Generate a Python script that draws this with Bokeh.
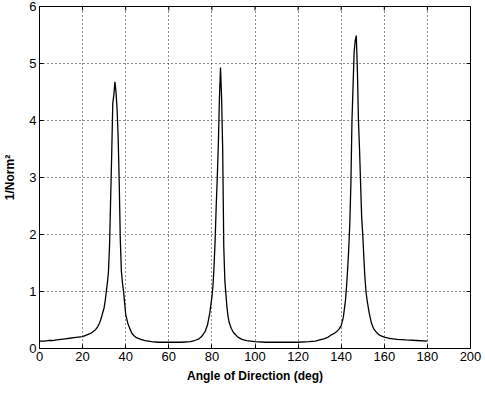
import math
from bokeh.plotting import figure
from bokeh.models import Range1d, FixedTicker
from bokeh.embed import file_html
from bokeh.resources import INLINE

# Angle of direction (deg) and pseudo-spectrum 1/Norm^2
angles = [0, 2, 4, 6, 8, 10, 12, 14, 16, 18, 20, 22, 24, 26, 27, 28, 29, 30, 30.5,
          31, 31.5, 32, 32.5, 33, 33.5, 34, 34.5, 35, 35.5, 36, 36.5, 37, 37.5, 38,
          38.5, 39, 39.5, 40, 41, 42, 43, 44, 45, 47, 49, 52, 55, 58, 62, 66, 70,
          72, 74, 75, 76, 77, 78, 79, 80, 80.5, 81, 81.5, 82, 82.5, 83, 83.5, 84,
          84.5, 85, 85.5, 86, 86.5, 87, 87.5, 88, 89, 90, 91, 92, 94, 96, 100, 105,
          110, 115, 120, 125, 128, 130, 132, 134, 135, 136, 137, 138, 139, 140, 141,
          142, 142.5, 143, 143.5, 144, 144.5, 145, 145.5, 146, 146.5, 147, 147.5,
          148, 148.5, 149, 149.5, 150, 150.5, 151, 151.5, 152, 153, 154, 155, 156,
          157, 158, 160, 162, 164, 166, 170, 175, 180]
inv_norm_sq = [0.13, 0.13, 0.14, 0.14, 0.15, 0.16, 0.17, 0.18, 0.19, 0.20, 0.21,
               0.24, 0.27, 0.33, 0.38, 0.46, 0.58, 0.72, 0.84,
               1.0, 1.15, 1.35, 1.8, 2.6, 3.4, 4.3, 4.45, 4.68, 4.5, 4.2, 3.7, 2.9,
               1.9, 1.35, 1.15, 1.0, 0.8, 0.6, 0.44, 0.34, 0.26, 0.22, 0.19, 0.16,
               0.14, 0.12, 0.11, 0.11, 0.11, 0.11, 0.12,
               0.14, 0.17, 0.2, 0.25, 0.31, 0.42, 0.62, 0.9, 1.1, 1.45, 1.9, 2.5,
               3.0, 3.6, 4.4, 4.93, 4.4, 3.5, 1.8, 1.2, 0.95, 0.72, 0.56, 0.46, 0.35,
               0.28, 0.24, 0.2, 0.16, 0.14, 0.12, 0.11,
               0.11, 0.11, 0.11, 0.12, 0.13, 0.15, 0.17, 0.2, 0.23, 0.25, 0.27,
               0.3, 0.34, 0.4, 0.55,
               0.85, 1.1, 1.4, 1.75, 2.2, 2.9, 4.0, 4.6, 5.2, 5.4, 5.49, 4.9,
               4.0, 3.5, 2.9, 2.3, 2.0, 1.6, 1.25, 1.0, 0.85, 0.62, 0.45, 0.35, 0.3,
               0.26, 0.23, 0.2, 0.18, 0.17, 0.16, 0.15, 0.14, 0.13]

x_ticks = [0, 20, 40, 60, 80, 100, 120, 140, 160, 180, 200]
y_ticks = [0, 1, 2, 3, 4, 5, 6]
x_min, x_max = 0, 200
y_min, y_max = 0, 6

FONT = "Liberation Sans"

p = figure(width=485, height=394, output_backend="svg", toolbar_location=None,
           x_range=Range1d(x_min, x_max), y_range=Range1d(y_min, y_max),
           min_border_left=37, min_border_right=15, min_border_top=6,
           min_border_bottom=46, background_fill_color="white",
           border_fill_color="white")

p.line(angles, inv_norm_sq, line_color="black", line_width=1.3)

p.xaxis.axis_label = "Angle of Direction (deg)"
p.yaxis.axis_label = "1/Norm²"

for ax in (p.xaxis[0], p.yaxis[0]):
    ax.axis_label_text_font = FONT
    ax.axis_label_text_font_size = "12px"
    ax.axis_label_text_font_style = "bold"
    ax.major_label_text_font = FONT
    ax.major_label_text_font_size = "13px"
    ax.major_label_standoff = 3
    ax.major_tick_in = 4
    ax.major_tick_out = 0
    ax.minor_tick_line_color = None
    ax.axis_line_color = "black"
    ax.major_tick_line_color = "black"
    ax.major_label_text_color = "black"
    ax.axis_label_text_color = "black"

p.xaxis.axis_label_standoff = 5
p.yaxis.axis_label_standoff = 9

p.xaxis.ticker = FixedTicker(ticks=x_ticks)
p.yaxis.ticker = FixedTicker(ticks=y_ticks)

# inward box ticks on the top and right edges (clipped half-dashes)
p.scatter(x_ticks, [y_max] * len(x_ticks), marker="dash", size=8,
          angle=math.pi / 2, line_color="black", line_width=1)
p.scatter([x_max] * len(y_ticks), y_ticks, marker="dash", size=8,
          line_color="black", line_width=1)

p.xgrid.ticker = FixedTicker(ticks=x_ticks)
p.ygrid.ticker = FixedTicker(ticks=y_ticks)
for g in (p.xgrid[0], p.ygrid[0]):
    g.grid_line_color = "black"
    g.grid_line_dash = "1 3"
    g.grid_line_alpha = 0.9
    g.grid_line_width = 1

p.outline_line_color = "black"
p.outline_line_alpha = 1

open("out.html", "w").write(file_html(p, INLINE))
